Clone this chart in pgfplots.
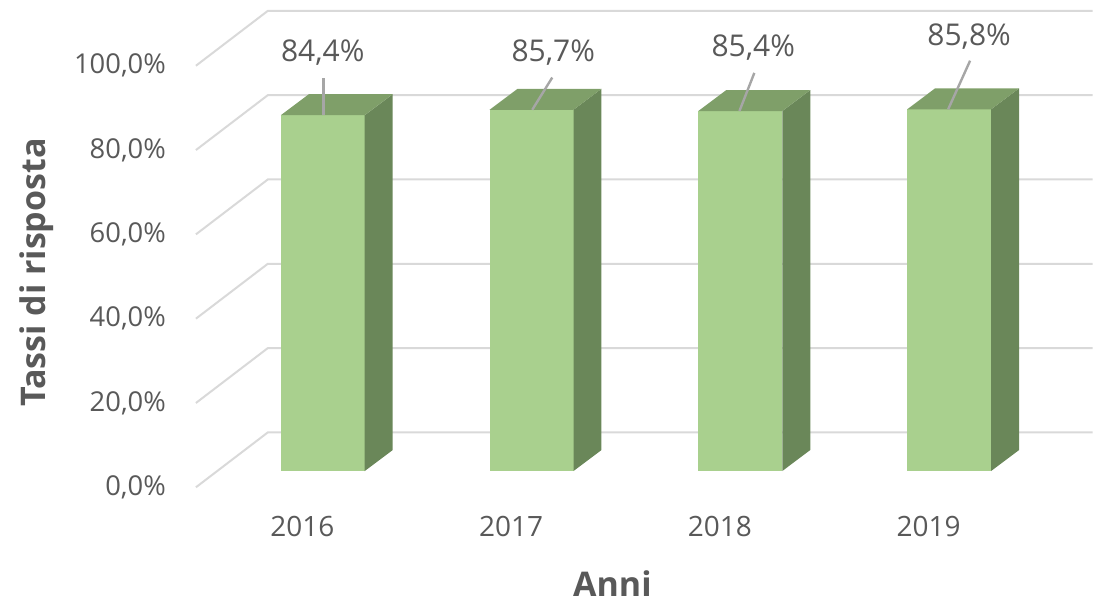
\documentclass[border=0pt]{standalone}
\usepackage{pgfplots}
\pgfplotsset{compat=1.18}
\usepackage{pgfplotstable}
\usepackage{fontspec}
\setmainfont{Open Sans}
\definecolor{txt}{HTML}{595959}
\definecolor{gridc}{HTML}{D9D9D9}
\definecolor{front}{HTML}{A9D08E}
\definecolor{topc}{HTML}{7F9F69}
\definecolor{side}{HTML}{6A8759}
\definecolor{lead}{HTML}{A6A6A6}
\pgfkeys{/pgf/number format/.cd, use comma, fixed, fixed zerofill, precision=1, assume math mode=true}

% year index, value (%), label position, leader line start x / end x,y
\pgfplotstableread{
x v lx ly sx ex ey
0 84.4 0.098 103.1 0.1014 0.1014 97.2
1 85.7 1.202 103.1 1.1014 1.1971 97.2
2 85.4 2.160 104.3 2.0938 2.1651 98.3
3 85.8 3.194 106.9 3.0934 3.1986 101.2
}\data

% perspective gridline shape (front-left corner, back-left corner, right end)
\pgfplotstableread{
gx gy
-0.5096 0
-0.165 13.03
3.786 13.03
}\gridshape

\begin{document}
\begin{tikzpicture}
\begin{axis}[
  x=104.5pt, y=2.11pt,
  xmin=-0.5096, xmax=3.792, ymin=0, ymax=115.6,
  clip=false,
  axis line style={draw=none},
  major tick style={draw=none},
  xtick={0,1,2,3}, xticklabels={2016,2017,2018,2019},
  ytick={0,20,...,100},
  yticklabel={\pgfmathprintnumber{\tick}\%},
  tick label style={font=\fontsize{14}{17}\selectfont, text=txt},
  yticklabel style={anchor=east, xshift=-11.5pt, font=\fontsize{13.7}{17}\selectfont},
  xticklabel style={yshift=-11pt},
  xlabel={Anni}, ylabel={Tassi di risposta},
  label style={font=\bfseries\fontsize{17}{20}\selectfont, text=txt},
  xlabel style={at={(axis description cs:0.4638,-0.1967)}, anchor=center, inner ysep=3.5pt},
  ylabel style={at={(axis description cs:-0.177,0.4406)}, anchor=center, inner xsep=2pt, inner ysep=10pt},
]
\pgfplotsinvokeforeach{0,20,...,100}{
  \addplot[gridc, line width=1pt] table[x=gx, y expr=\thisrow{gy}+#1] {\gridshape};
}
\pgfplotsinvokeforeach{0,1,2,3}{
  \pgfplotstablegetelem{#1}{v}\of\data
  \pgfmathsetmacro\bt{\pgfplotsretval+3.86}
  \pgfmathsetmacro\bb{\pgfplotsretval+8.84}
  \pgfmathsetmacro\xa{#1-0.103}
  \pgfmathsetmacro\xb{#1+0.299}
  \pgfmathsetmacro\xc{#1+0.433}
  \pgfmathsetmacro\xd{#1+0.031}
  \pgfplotstablegetelem{#1}{sx}\of\data \let\lsx\pgfplotsretval
  \pgfplotstablegetelem{#1}{ex}\of\data \let\lex\pgfplotsretval
  \pgfplotstablegetelem{#1}{ey}\of\data \let\ley\pgfplotsretval
  \edef\doit{%
    \noexpand\addplot[fill=front, draw=none] coordinates {(\xa,3.86) (\xb,3.86) (\xb,\bt) (\xa,\bt)};
    \noexpand\addplot[fill=side, draw=none] coordinates {(\xb,3.86) (\xc,8.84) (\xc,\bb) (\xb,\bt)};
    \noexpand\addplot[fill=topc, draw=none] coordinates {(\xa,\bt) (\xb,\bt) (\xc,\bb) (\xd,\bb)};
    \noexpand\addplot[lead, line width=1.2pt] coordinates {(\lsx,\bt) (\lex,\ley)};
  }\doit
}
\addplot[draw=none, point meta=explicit,
  nodes near coords={\pgfmathprintnumber{\pgfplotspointmeta}\%},
  nodes near coords align={center},
  every node near coord/.append style={anchor=center, font=\fontsize{15}{18}\selectfont, text=txt}]
  table[x=lx, y=ly, meta=v] {\data};
\end{axis}
\end{tikzpicture}
\end{document}
